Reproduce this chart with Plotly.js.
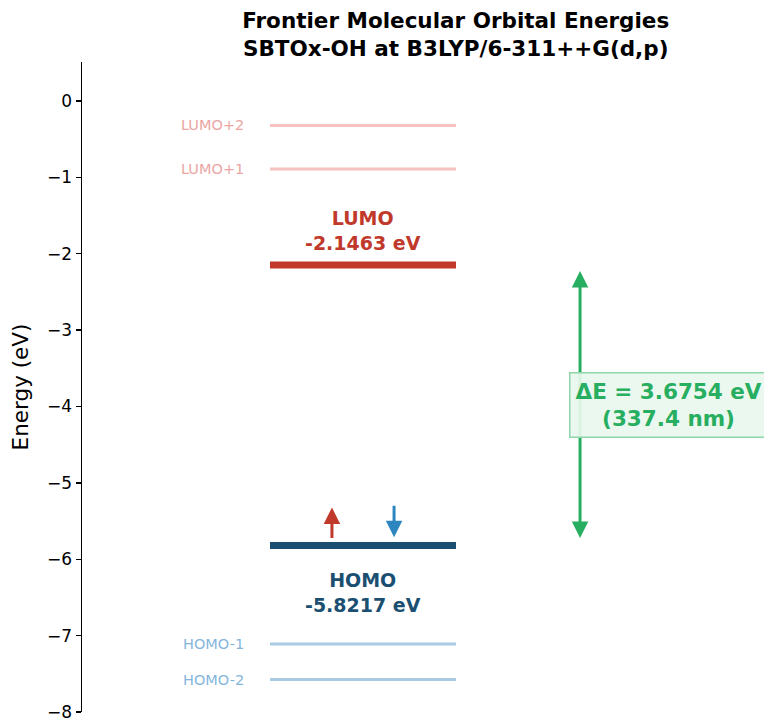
<!DOCTYPE html>
<html>
<head>
<meta charset="utf-8">
<script src="https://cdn.plot.ly/plotly-3.0.1.min.js"></script>
<style>html,body{margin:0;padding:0;background:#fff;}#chart{width:764px;height:718px;}</style>
</head>
<body>
<div id="chart"></div>
<script>
// ---- data ----
const orbitalNames = ['HOMO-2', 'HOMO-1', 'HOMO', 'LUMO', 'LUMO+1', 'LUMO+2'];
const orbitalEnergies = [-7.575, -7.11, -5.8217, -2.1463, -0.89, -0.32];
const homoEnergy = -5.8217;
const lumoEnergy = -2.1463;
const gapText = 'ΔE = 3.6754 eV<br>(337.4 nm)';
const yTickVals = [-8, -7, -6, -5, -4, -3, -2, -1, 0];

// ---- styles ----
const FONT = 'DejaVu Sans, Verdana, sans-serif';
const styleFor = {
  'HOMO-2': {line: '#a9cce3', text: '#85b6dc', width: 3},
  'HOMO-1': {line: '#a9cce3', text: '#85b6dc', width: 3},
  'HOMO':   {line: '#1b4f72', text: '#1b4f72', width: 7},
  'LUMO':   {line: '#c0392b', text: '#c0392b', width: 7},
  'LUMO+1': {line: '#f5c2c0', text: '#eba6a4', width: 3},
  'LUMO+2': {line: '#f5c2c0', text: '#eba6a4', width: 3}
};
const X0 = 0, X1 = 1;          // level extent
const XLABEL = -0.13;           // side labels
const XGAP = 1.667;             // gap arrow
const XBOX = 2.14;              // gap box

const traces = orbitalNames.map((n, i) => ({
  type: 'scatter', mode: 'lines',
  x: [X0, X1], y: [orbitalEnergies[i], orbitalEnergies[i]],
  line: {color: styleFor[n].line, width: styleFor[n].width},
  hoverinfo: 'skip', showlegend: false
}));

const annotations = [];
orbitalNames.forEach((n, i) => {
  if (n === 'HOMO' || n === 'LUMO') return;
  annotations.push({
    x: XLABEL, y: orbitalEnergies[i], xref: 'x', yref: 'y',
    text: n, showarrow: false, xanchor: 'right', yanchor: 'middle',
    font: {family: FONT, size: 14.5, color: styleFor[n].text}
  });
});
annotations.push({
  x: (X0 + X1) / 2, y: lumoEnergy, xref: 'x', yref: 'y',
  text: '<b>LUMO</b><br><b>' + lumoEnergy.toFixed(4) + ' eV</b>',
  showarrow: false, xanchor: 'center', yanchor: 'bottom', yshift: 9,
  font: {family: FONT, size: 19, color: styleFor['LUMO'].text}
});
annotations.push({
  x: (X0 + X1) / 2, y: homoEnergy, xref: 'x', yref: 'y',
  text: '<b>HOMO</b><br><b>' + homoEnergy.toFixed(4) + ' eV</b>',
  showarrow: false, xanchor: 'center', yanchor: 'top', yshift: -21,
  font: {family: FONT, size: 19, color: styleFor['HOMO'].text}
});
// electron arrows
annotations.push({
  x: 0.333, y: homoEnergy + 0.50, ax: 0.333, ay: homoEnergy + 0.08,
  xref: 'x', yref: 'y', axref: 'x', ayref: 'y', text: '',
  showarrow: true, arrowhead: 2, arrowsize: 1.1, arrowwidth: 3, arrowcolor: '#c0392b', standoff: 0
});
annotations.push({
  x: 0.667, y: homoEnergy + 0.11, ax: 0.667, ay: homoEnergy + 0.54,
  xref: 'x', yref: 'y', axref: 'x', ayref: 'y', text: '',
  showarrow: true, arrowhead: 2, arrowsize: 1.1, arrowwidth: 3, arrowcolor: '#2e86c1', standoff: 0
});
// gap arrow
annotations.push({
  x: XGAP, y: lumoEnergy - 0.08, ax: XGAP, ay: homoEnergy + 0.08,
  xref: 'x', yref: 'y', axref: 'x', ayref: 'y', text: '',
  showarrow: true, arrowhead: 2, arrowside: 'end+start', arrowsize: 1.1, arrowwidth: 3,
  arrowcolor: '#27ae60', standoff: 0, startstandoff: 0
});
annotations.push({
  x: XBOX, y: (lumoEnergy + homoEnergy) / 2, xref: 'x', yref: 'y',
  text: '<b>' + gapText.replace('<br>', '</b><br><b>') + '</b>',
  showarrow: false, xanchor: 'center', yanchor: 'middle',
  bgcolor: 'rgba(233,247,238,0.92)', bordercolor: '#8fd6aa', borderwidth: 1.5, borderpad: 5,
  font: {family: FONT, size: 21.5, color: '#27ae60'}
});

const layout = {
  width: 764, height: 718,
  margin: {l: 82, r: 0, t: 62, b: 6},
  paper_bgcolor: '#ffffff', plot_bgcolor: '#ffffff',
  font: {family: FONT, color: '#000'},
  title: {
    text: '<b>Frontier Molecular Orbital Energies</b><br><b>SBTOx-OH at B3LYP/6-311++G(d,p)</b>',
    x: 0.548, xref: 'paper', xanchor: 'center',
    y: 1 - 28 / 718, yref: 'container', yanchor: 'middle',
    font: {family: FONT, size: 21.5, color: '#000'}
  },
  xaxis: {range: [-1.0108, 2.656], visible: false, showgrid: false, zeroline: false, fixedrange: true},
  yaxis: {
    range: [-8, 0.51], showgrid: false, zeroline: false,
    showline: true, linecolor: '#000', linewidth: 1.5,
    ticks: 'outside', ticklen: 5, tickwidth: 1.3, tickcolor: '#000',
    ticklabeloverflow: 'allow',
    tickvals: yTickVals, tickfont: {family: FONT, size: 17, color: '#000'},
    title: {text: 'Energy (eV)', font: {family: FONT, size: 21.5, color: '#000'}, standoff: 12}
  },
  annotations: annotations,
  showlegend: false
};

Plotly.newPlot('chart', traces, layout, {displayModeBar: false, staticPlot: true});
</script>
</body>
</html>
